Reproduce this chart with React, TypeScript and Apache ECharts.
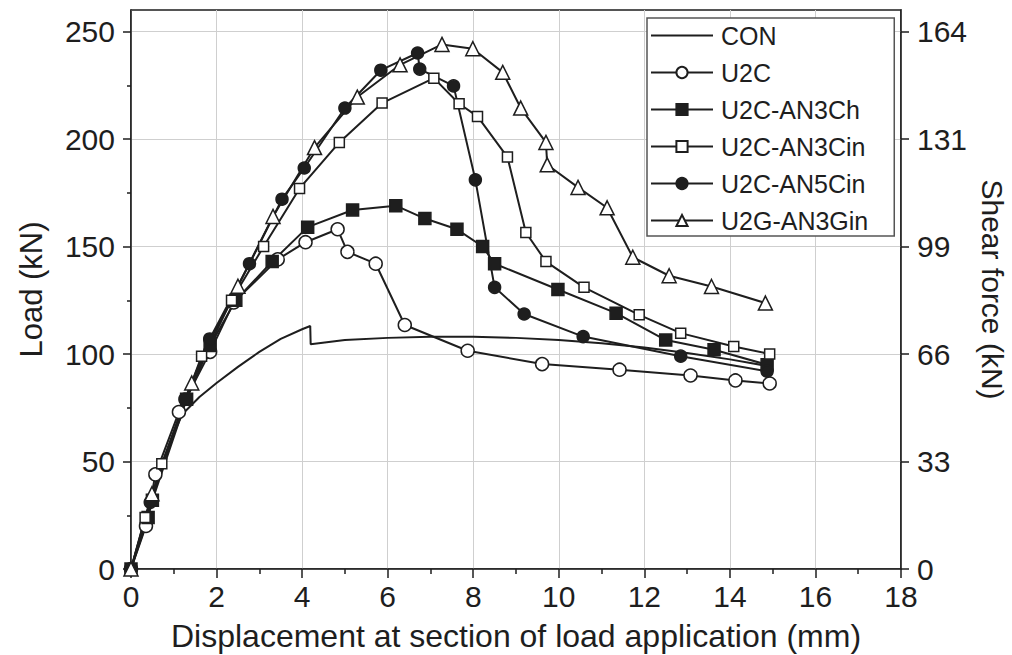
import React, { useEffect, useRef } from "react";
import * as echarts from "echarts";

// Displacement (mm) / Load (kN) pairs
const conData: [number, number][] = [
  [0, 0], [0.2, 13], [0.4, 27], [0.6, 40], [0.8, 52], [1.0, 63], [1.2, 72], [1.6, 80],
  [2.0, 86.5], [2.5, 94], [3.0, 101], [3.5, 107], [4.0, 111.5], [4.19, 113], [4.2, 104.5],
  [5.0, 106.5], [6.0, 107.5], [7.0, 108], [8.0, 108], [9.0, 107.5], [10.0, 106.5],
  [11.0, 105], [12.0, 103], [13.0, 100.5], [14.0, 97.5], [15.0, 94],
];
const u2cData: [number, number][] = [
  [0, 0], [0.35, 20], [0.57, 44], [1.12, 73], [1.85, 101], [2.4, 124], [3.43, 144],
  [4.08, 152], [4.83, 158], [5.06, 147.5], [5.72, 142], [6.4, 113.5], [7.87, 101.5],
  [9.61, 95.3], [11.42, 92.7], [13.08, 90], [14.13, 87.7], [14.93, 86.3],
];
const an3ChData: [number, number][] = [
  [0, 0], [0.4, 24], [0.5, 32], [1.3, 79], [1.85, 104], [2.45, 125], [3.3, 143],
  [4.13, 159], [5.18, 167], [6.19, 169], [6.87, 163], [7.62, 158], [8.22, 150], [8.5, 142],
  [9.98, 130], [11.34, 119], [12.5, 106.5], [13.63, 102], [14.87, 95],
];
const an3CinData: [number, number][] = [
  [0, 0], [0.33, 24], [0.72, 49], [1.65, 99], [2.35, 125], [3.1, 150], [3.94, 177],
  [4.87, 198.4], [5.87, 216.7], [7.08, 228.3], [7.67, 216.4], [8.1, 210.5], [8.8, 191.6],
  [9.23, 156.5], [9.7, 143], [10.59, 131], [11.88, 118.2], [12.85, 109.7], [14.09, 103.5],
  [14.93, 100],
];
const an5CinData: [number, number][] = [
  [0, 0], [0.45, 31], [1.26, 79], [1.84, 107], [2.77, 142], [3.53, 172], [4.05, 186.5],
  [5.0, 214.4], [5.84, 232], [6.7, 240], [6.75, 232.5], [7.54, 224.7], [8.05, 181], [8.5, 131],
  [9.19, 118.6], [10.57, 108.1], [12.85, 99], [14.87, 92],
];
const an3GinData: [number, number][] = [
  [0, 0], [0.49, 35], [1.42, 86.5], [2.5, 131.5], [3.32, 164], [4.29, 196], [5.29, 219.5],
  [6.29, 234.5], [7.27, 244], [7.99, 242], [8.69, 231], [9.11, 214.4], [9.7, 198.4],
  [9.73, 188], [10.45, 177.5], [11.13, 168], [11.73, 145], [12.58, 136.4], [13.57, 131.4],
  [14.83, 123.7],
];

const seriesNames = ["CON", "U2C", "U2C-AN3Ch", "U2C-AN3Cin", "U2C-AN5Cin", "U2G-AN3Gin"];
const loadTicks = [0, 50, 100, 150, 200, 250];
const loadMinorTicks = [25, 75, 125, 175, 225];
const shearTickLabels = ["0", "33", "66", "99", "131", "164"];

const FONT = "'Liberation Sans', Arial, sans-serif";
const INK = "#1e1e1e";
const CLEAR = "rgba(0,0,0,0)";

export default function App() {
  const ref = useRef<HTMLDivElement>(null);
  useEffect(() => {
    if (!ref.current) return;
    const chart = echarts.init(ref.current, undefined, { renderer: "svg" });
    const mk = (
      name: string,
      data: [number, number][],
      symbol: string,
      size: number,
      filled: boolean
    ) => ({
      name,
      type: "line",
      data,
      symbol,
      symbolSize: size,
      showSymbol: symbol !== "none",
      lineStyle: { color: INK, width: 2 },
      itemStyle: {
        color: filled ? INK : "#ffffff",
        borderColor: INK,
        borderWidth: 1.5,
      },
      emphasis: { disabled: true },
      z: 3,
    });
    const legendData = seriesNames.map((n, i) =>
      i === 0
        ? { name: n, itemStyle: { color: CLEAR, borderColor: CLEAR, borderWidth: 0 } }
        : { name: n }
    );
    const option: any = {
      animation: false,
      textStyle: { fontFamily: FONT },
      grid: {
        left: 131,
        right: 111,
        top: 10,
        bottom: 86,
        show: true,
        borderColor: INK,
        borderWidth: 1.5,
        backgroundColor: "transparent",
        containLabel: false,
        outerBoundsMode: "none",
      },
      legend: {
        data: legendData,
        orient: "vertical",
        left: 647,
        top: 18,
        padding: [5, 26, 3, 3],
        itemGap: 12,
        itemWidth: 62,
        itemHeight: 14,
        backgroundColor: "#ffffff",
        borderColor: "#555",
        borderWidth: 1.5,
        textStyle: { fontSize: 25, color: INK, fontFamily: FONT, lineHeight: 25, padding: [0, 0, 0, 3] },
        z: 10,
      },
      xAxis: {
        type: "value",
        min: 0,
        max: 18,
        interval: 2,
        name: "Displacement at section of load application (mm)",
        nameLocation: "middle",
        nameGap: 51,
        nameTextStyle: { fontSize: 32, color: INK, fontFamily: FONT },
        axisLine: { show: true, onZero: false, lineStyle: { color: INK, width: 1.5 } },
        axisTick: { show: true, length: 9, lineStyle: { color: INK, width: 1.5 } },
        minorTick: { show: true, splitNumber: 2, length: 5, lineStyle: { color: INK, width: 1.5 } },
        axisLabel: { fontSize: 30, color: INK, margin: 12, fontFamily: FONT },
        splitLine: { show: true, lineStyle: { color: "#cfcfcf", width: 1 } },
      },
      yAxis: [
        {
          type: "value",
          position: "left",
          min: 0,
          max: 260,
          interval: 50,
          name: "Load (kN)",
          nameLocation: "middle",
          nameGap: 84,
          nameTextStyle: { fontSize: 31, color: INK, fontFamily: FONT },
          axisLine: { show: true, onZero: false, lineStyle: { color: INK, width: 1.5 } },
          axisTick: { show: true, length: 8, customValues: loadTicks, lineStyle: { color: INK, width: 1.5 } },
          axisLabel: { fontSize: 30, color: INK, margin: 16, customValues: loadTicks, fontFamily: FONT },
          splitLine: { show: true, lineStyle: { color: "#cfcfcf", width: 1 } },
        },
        {
          type: "value",
          position: "right",
          min: 0,
          max: 260,
          interval: 50,
          name: "Shear force (kN)",
          nameLocation: "middle",
          nameRotate: -90,
          nameGap: 75,
          nameTextStyle: { fontSize: 30, color: INK, fontFamily: FONT },
          axisLine: { show: true, onZero: false, lineStyle: { color: INK, width: 1.5 } },
          axisTick: { show: true, length: 8, customValues: loadTicks, lineStyle: { color: INK, width: 1.5 } },
          axisLabel: {
            fontSize: 30,
            color: INK,
            margin: 16,
            fontFamily: FONT,
            customValues: loadTicks,
            formatter: (v: number) => {
              const i = loadTicks.indexOf(v);
              return i >= 0 ? shearTickLabels[i] : "";
            },
          },
          splitLine: { show: false },
        },
        {
          type: "value",
          position: "left",
          min: 0,
          max: 260,
          interval: 50,
          axisLine: { show: false },
          axisTick: { show: true, length: 4, customValues: loadMinorTicks, lineStyle: { color: INK, width: 1.5 } },
          axisLabel: { show: false },
          splitLine: { show: false },
        },
      ],
      series: [
        { ...mk("CON", conData, "none", 0, true), z: 2 },
        mk("U2C", u2cData, "circle", 13, false),
        mk("U2C-AN3Ch", an3ChData, "rect", 12, true),
        mk("U2C-AN3Cin", an3CinData, "rect", 10, false),
        mk("U2C-AN5Cin", an5CinData, "circle", 12, true),
        mk("U2G-AN3Gin", an3GinData, "triangle", 14, false),
      ],
    };
    chart.setOption(option);
    return () => chart.dispose();
  }, []);
  return (
    <div
      ref={ref}
      style={{ position: "fixed", left: 0, top: 0, width: 1012, height: 655, background: "#fff" }}
    />
  );
}
